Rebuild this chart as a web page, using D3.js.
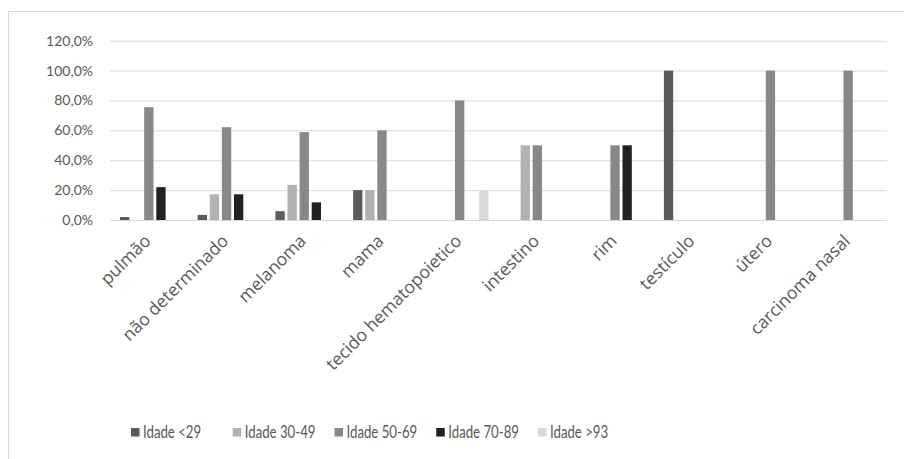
<!DOCTYPE html>
<html>
<head>
<meta charset="utf-8">
<script src="https://cdn.jsdelivr.net/npm/d3@7"></script>
<style>
  html, body { margin: 0; padding: 0; background: #fff; }
  svg { display: block; }
</style>
</head>
<body>
<svg id="chart" width="904" height="459"></svg>
<script>
const categories = ["pulmão", "não determinado", "melanoma", "mama", "tecido hematopoietico", "intestino", "rim", "testículo", "útero", "carcinoma nasal"];
const seriesNames = ["Idade <29", "Idade 30-49", "Idade 50-69", "Idade 70-89", "Idade >93"];
const age29   = [2.0, 3.4, 5.9, 20, 0, 0, 0, 100, 0, 0];
const age3049 = [0, 17.2, 23.5, 20, 0, 50, 0, 0, 0, 0];
const age5069 = [75.5, 62.1, 58.8, 60, 80, 50, 50, 0, 100, 100];
const age7089 = [22.0, 17.2, 11.8, 0, 0, 0, 50, 0, 0, 0];
const age93   = [0, 0, 0, 0, 20, 0, 0, 0, 0, 0];
const seriesValues = [age29, age3049, age5069, age7089, age93];
const seriesColors = ["#5b5b5b", "#b1b1b1", "#888888", "#222222", "#d9d9d9"];
const yTicks = [0, 20, 40, 60, 80, 100, 120];

const svg = d3.select("#chart");
const plotLeft = 110, plotRight = 887, plotTop = 40.7, plotBottom = 220;

// chart frame
svg.append("rect").attr("x", 8.5).attr("y", 11.5).attr("width", 920).attr("height", 470)
  .attr("fill", "none").attr("stroke", "#d9d9d9").attr("stroke-width", 1);

const y = d3.scaleLinear().domain([0, 120]).range([plotBottom, plotTop]);
const x0 = d3.scaleBand().domain(categories).range([plotLeft, plotRight]).paddingInner(0).paddingOuter(0);
const catW = x0.bandwidth();
const x1 = d3.scaleBand().domain(seriesNames).range([10, catW - 10]).paddingInner(0.23).paddingOuter(0);

// gridlines
const yAxis = d3.axisLeft(y).tickValues(yTicks).tickSize(-(plotRight - plotLeft)).tickPadding(17)
  .tickFormat(d => d.toFixed(1).replace(".", ",") + "%");
const gy = svg.append("g").attr("transform", `translate(${plotLeft},0)`).call(yAxis);
gy.select(".domain").remove();
gy.selectAll(".tick line").attr("stroke", "#d9d9d9").attr("stroke-width", 1);
gy.selectAll(".tick text").attr("fill", "#595959")
  .style("font-family", "Lato, 'Open Sans', sans-serif").style("font-size", "14px");

// bars
const data = [];
categories.forEach((c, i) => {
  seriesNames.forEach((s, j) => {
    const v = seriesValues[j][i];
    if (v > 0) data.push({ c, s, v, color: seriesColors[j] });
  });
});
svg.append("g").selectAll("rect").data(data).join("rect")
  .attr("x", d => x0(d.c) + x1(d.s))
  .attr("width", x1.bandwidth())
  .attr("y", d => y(d.v))
  .attr("height", d => y(0) - y(d.v))
  .attr("fill", d => d.color);

// x axis labels
const xAxis = d3.axisBottom(x0).tickSize(0).tickPadding(0);
const gx = svg.append("g").attr("transform", `translate(0,${plotBottom})`).call(xAxis);
gx.select(".domain").remove();
gx.selectAll(".tick text")
  .attr("fill", "#595959")
  .style("font-family", "'Open Sans', sans-serif").style("font-size", "17.5px")
  .attr("text-anchor", "end")
  .attr("dy", 0)
  .attr("y", 0)
  .attr("transform", "translate(3,22) rotate(-45)");

// legend
const lx = d3.scalePoint().domain(seriesNames).range([131, 538]);
const lg = svg.append("g").selectAll("g").data(seriesNames).join("g")
  .attr("transform", d => `translate(${lx(d)},428)`);
lg.append("rect").attr("width", 8.5).attr("height", 8.5).attr("fill", (d, i) => seriesColors[i]);
lg.append("text").attr("transform", "translate(12,10) scale(0.8,1)").text(d => d)
  .attr("fill", "#595959")
  .style("font-family", "Lato, 'Open Sans', sans-serif").style("font-size", "16.5px");
</script>
</body>
</html>
